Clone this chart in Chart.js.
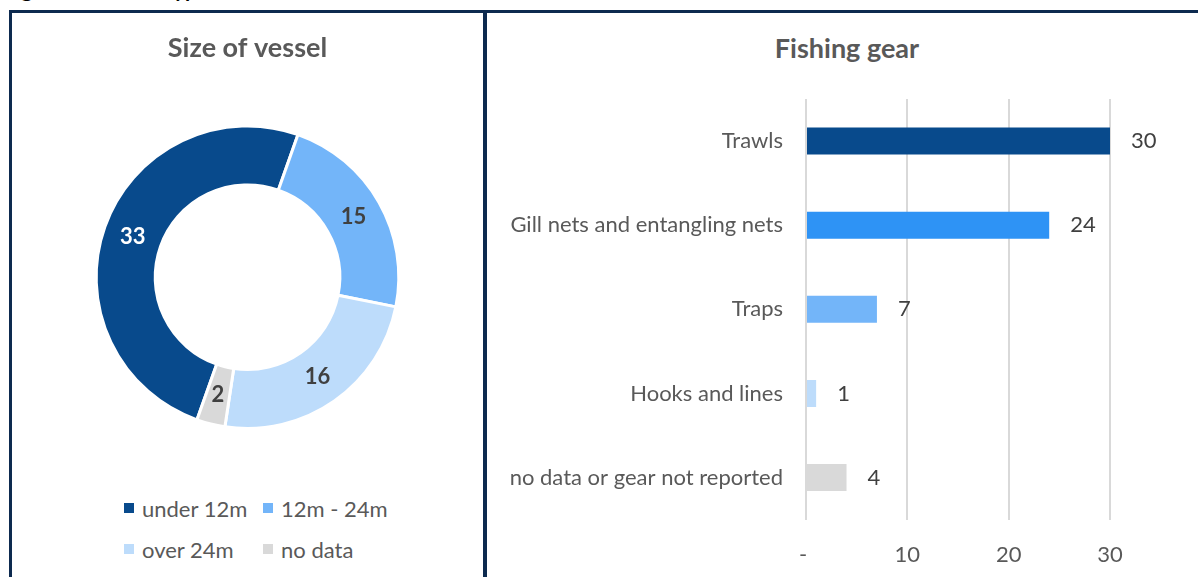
<!DOCTYPE html>
<html>
<head>
<meta charset="utf-8">
<script src="https://cdn.jsdelivr.net/npm/chart.js@4/dist/chart.umd.min.js"></script>
<style>
  body { margin: 0; width: 1198px; height: 577px; overflow: hidden; background: #fff; position: relative; font-family: Lato, sans-serif; }
  #figTitle { position: absolute; left: 4px; top: -21px; font: bold 21px Lato, sans-serif; line-height: 20px; color: #000; white-space: nowrap; }
  .panel { position: absolute; top: 10px; height: 620px; border-top: 3px solid #0d2a4f; }
  #left { left: 9px; width: 471px; border-left: 3px solid #0d2a4f; border-right: 4px solid #0d2a4f; }
  #right { left: 487px; width: 720px; }
  canvas { position: absolute; left: 0; top: 0; }
  #gearTitle { position: absolute; left: 160px; top: 19px; width: 400px; text-align: center; font: bold 27px Lato, sans-serif; line-height: 32px; color: #595959; }
  #legend { position: absolute; left: 112px; top: 482px; display: grid; grid-template-columns: 139px 139px; row-gap: 15px; }
  .item { display: flex; align-items: center; height: 26px; font-size: 22px; color: #595959; white-space: nowrap; }
  .box { width: 10px; height: 10px; margin-right: 8px; }
</style>
</head>
<body>
<div id="figTitle">Figure 10: Vessel type</div>
<div class="panel" id="left">
  <canvas id="sizeChart" width="471" height="417"></canvas>
  <div id="legend"></div>
</div>
<div class="panel" id="right">
  <div id="gearTitle">Fishing gear</div>
  <canvas id="gearChart" width="720" height="587"></canvas>
</div>
<script>
const vesselSizes = ['under 12m', '12m - 24m', 'over 24m', 'no data'];
const vesselCounts = [33, 15, 16, 2];
const vesselColors = ['#084a8c', '#73b5f9', '#bddcfb', '#d9d9d9'];
const vesselLabelColors = ['#ffffff', '#404040', '#404040', '#404040'];

const gearTypes = ['Trawls', 'Gill nets and entangling nets', 'Traps', 'Hooks and lines', 'no data or gear not reported'];
const gearCounts = [30, 24, 7, 1, 4];
const gearColors = ['#084a8c', '#2e93f5', '#73b5f9', '#bddcfb', '#d9d9d9'];

const gearTickStep = 10;
const gearMax = 30;

// value labels in the middle of each ring segment
const arcLabels = {
  id: 'arcLabels',
  afterDatasetsDraw(chart) {
    const ctx = chart.ctx;
    const meta = chart.getDatasetMeta(0);
    ctx.save();
    ctx.font = 'bold 22px Lato';
    ctx.textAlign = 'center';
    ctx.textBaseline = 'middle';
    meta.data.forEach((arc, i) => {
      const p = arc.tooltipPosition();
      ctx.fillStyle = vesselLabelColors[i];
      ctx.fillText(chart.data.datasets[0].data[i], p.x, p.y);
    });
    ctx.restore();
  }
};

// value labels just past the end of each bar
const barLabels = {
  id: 'barLabels',
  afterDatasetsDraw(chart) {
    const ctx = chart.ctx;
    const meta = chart.getDatasetMeta(0);
    ctx.save();
    ctx.font = '22px Lato';
    ctx.fillStyle = '#404040';
    ctx.textAlign = 'left';
    ctx.textBaseline = 'middle';
    meta.data.forEach((bar, i) => {
      ctx.fillText(chart.data.datasets[0].data[i], bar.x + 21, bar.y);
    });
    ctx.restore();
  }
};

new Chart(document.getElementById('sizeChart'), {
  type: 'doughnut',
  data: {
    labels: vesselSizes,
    datasets: [{
      data: vesselCounts,
      backgroundColor: vesselColors,
      borderColor: '#ffffff',
      borderWidth: 3
    }]
  },
  options: {
    responsive: false,
    animation: false,
    cutout: '61%',
    rotation: 199.5,
    plugins: {
      legend: { display: false },
      tooltip: { enabled: false },
      title: {
        display: true,
        text: 'Size of vessel',
        color: '#595959',
        font: { family: 'Lato', size: 27, weight: 'bold' },
        padding: { top: 19, bottom: 60 }
      }
    }
  },
  plugins: [arcLabels]
});

const legend = document.getElementById('legend');
vesselSizes.forEach((name, i) => {
  const item = document.createElement('div');
  item.className = 'item';
  item.innerHTML = '<span class="box" style="background:' + vesselColors[i] + '"></span>' + name;
  legend.appendChild(item);
});

new Chart(document.getElementById('gearChart'), {
  type: 'bar',
  data: {
    labels: gearTypes,
    datasets: [{
      data: gearCounts,
      backgroundColor: gearColors,
      categoryPercentage: 1,
      barPercentage: 0.32
    }]
  },
  options: {
    indexAxis: 'y',
    responsive: false,
    animation: false,
    layout: { padding: { left: 8, right: 97, top: 86, bottom: 10 } },
    scales: {
      x: {
        min: 0,
        max: gearMax,
        border: { display: false },
        grid: { color: '#d9d9d9', lineWidth: 2, drawTicks: false },
        ticks: {
          stepSize: gearTickStep,
          padding: 22,
          color: '#595959',
          font: { family: 'Lato', size: 22 },
          callback: v => v === 0 ? '- ' : v
        }
      },
      y: {
        border: { display: false },
        grid: { display: false, drawTicks: false },
        ticks: {
          padding: 23,
          color: '#595959',
          font: { family: 'Lato', size: 22 }
        },
        afterFit(scale) { scale.width = 311; }
      }
    },
    plugins: {
      legend: { display: false },
      tooltip: { enabled: false }
    }
  },
  plugins: [barLabels]
});
</script>
</body>
</html>
